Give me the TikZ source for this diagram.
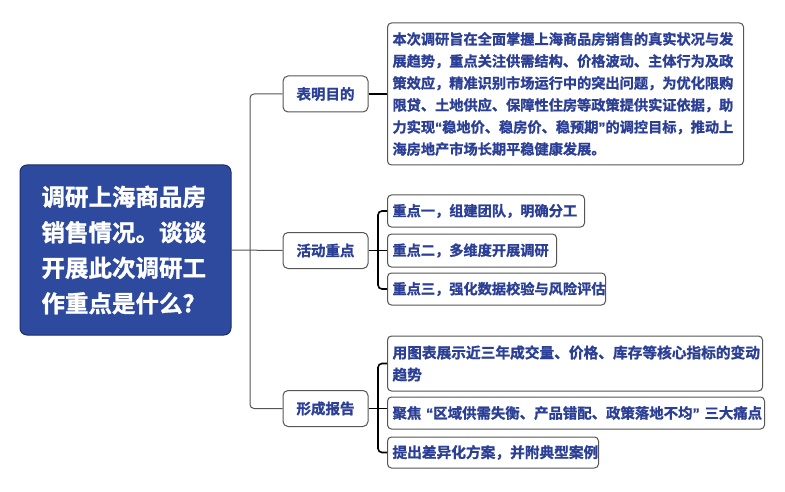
\documentclass[tikz,border=0pt]{standalone}
\usepackage{fontspec}
\newfontfamily\cjk{Noto Sans CJK SC Bold}[FakeBold=1.3]
\newfontfamily\latin{Liberation Sans}[FakeBold=1.3]
\newcommand{\myoq}{{\latin\bfseries “}}
\newcommand{\mycq}{{\latin\bfseries ”}}
\definecolor{txtblue}{RGB}{43,63,150}
\definecolor{rootblue}{RGB}{46,74,158}
\definecolor{rootedge}{RGB}{30,45,100}
\definecolor{edgegray}{RGB}{85,85,85}
\begin{document}
\begin{tikzpicture}[x=1pt,y=-1pt,
  root/.style={draw=rootedge, line width=1pt, rounded corners=7pt, fill=rootblue, text=white,
    minimum width=211pt, minimum height=170pt, text width=168pt, align=left, inner sep=0pt,
    font=\cjk\fontsize{23.5}{35.5}\selectfont},
  branch/.style={draw=edgegray, line width=1pt, rounded corners=5pt, fill=white, text=txtblue,
    minimum width=85pt, minimum height=36pt, inner sep=0pt,
    font=\cjk\fontsize{14.5}{18}\selectfont},
  leaf/.style={draw=edgegray, line width=1pt, rounded corners=4pt, fill=white, text=txtblue,
    anchor=west, align=left, inner xsep=5pt, inner ysep=0pt,
    font=\cjk\fontsize{14.7}{22}\selectfont},
  trunk/.style={draw=edgegray, line width=1pt, rounded corners=4pt},
  brace/.style={draw=black, line width=1.6pt, rounded corners=4pt}]
\useasboundingbox (0,0) rectangle (785,492);

\node[root] (root) at (125.5,250) {调研上海商品房\\销售情况。谈谈\\开展此次调研工\\作重点是什么?};

\node[branch] (b1) at (325.5,94) {表明目的};
\node[branch] (b2) at (325.5,250.5) {活动重点};
\node[branch] (b3) at (325.5,408.5) {形成报告};

\node[leaf, minimum height=142pt, text width=346pt, font=\cjk\fontsize{14.2}{22}\selectfont] (d1) at (387,94)
{本次调研旨在全面掌握上海商品房销售的真实状况与发\\展趋势，重点关注供需结构、价格波动、主体行为及政\\策效应，精准识别市场运行中的突出问题，为优化限购\\限贷、土地供应、保障性住房等政策提供实证依据，助\\力实现\myoq 稳地价、稳房价、稳预期\mycq 的调控目标，推动上\\海房地产市场长期平稳健康发展。};

\node[leaf, minimum height=32pt, text width=187pt, font=\cjk\fontsize{14.2}{22}\selectfont] (k1) at (387,211) {重点一，组建团队，明确分工};
\node[leaf, minimum height=33pt, text width=159pt, font=\cjk\fontsize{14.2}{22}\selectfont] (k2) at (387,250.5) {重点二，多维度开展调研};
\node[leaf, minimum height=32pt, text width=208pt, font=\cjk\fontsize{14.2}{22}\selectfont] (k3) at (387,289) {重点三，强化数据校验与风险评估};

\node[leaf, minimum height=55pt, text width=365pt] (r1) at (387,363.5) {用图表展示近三年成交量、价格、库存等核心指标的变动\\趋势};
\node[leaf, minimum height=32pt, text width=367pt, font=\cjk\fontsize{14.4}{22}\selectfont] (r2) at (387,413) {\mbox{聚焦 \myoq 区域供需失衡、产品错配、政策落地不均\mycq{} 三大痛点}};
\node[leaf, minimum height=31pt, text width=201pt] (r3) at (387,452.5) {提出差异化方案，并附典型案例};

% trunk
\coordinate (tr) at (250,250);
\draw[trunk] (root.east) -- (b2.west);
\draw[trunk] (b1.west) -| (tr) |- (b3.west);

% branch 1
\draw[brace] (b1.east) -- (d1.west);

% branch 2
\coordinate (j2) at (378,250.5);
\draw[brace] (b2.east) -- (j2) -- (k2.west);
\draw[brace] (k1.west) -| (j2) |- (k3.west);

% branch 3
\coordinate (j3) at (378,408.5);
\draw[brace] (b3.east) -- (j3) -- (r2.west |- j3);
\draw[brace] (r1.west) -| (j3) |- (r3.west);
\end{tikzpicture}
\end{document}
